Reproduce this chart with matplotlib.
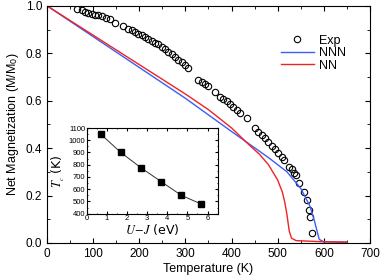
import matplotlib
matplotlib.use("Agg")
import matplotlib.pyplot as plt
from matplotlib.ticker import MultipleLocator

plt.rcParams["font.family"] = ["Liberation Sans", "DejaVu Sans"]
plt.rcParams["mathtext.fontset"] = "stix"

# experimental points
exp_t = [65.7, 75.2, 82.4, 89.5, 96.9, 104.0, 111.2, 118.6, 127.9, 136.5, 147.4,
         165.4, 176.2, 183.6, 190.7, 197.9, 205.2, 212.4, 219.5, 226.9, 234.0,
         241.2, 248.6, 255.7, 262.9, 270.3, 277.4, 284.6, 291.9, 299.1, 306.2,
         327.9, 335.3, 342.4, 349.6, 364.1, 374.9, 382.1, 389.5, 396.6, 403.8,
         411.1, 418.3, 432.8, 450.8, 458.0, 465.3, 472.5, 479.6, 487.0, 494.1,
         501.3, 508.7, 514.3, 525.1, 530.3, 536.0, 539.7, 546.2, 557.0, 562.8,
         567.2, 570.0, 575.0]
exp_m = [0.988, 0.981, 0.974, 0.970, 0.967, 0.963, 0.960, 0.957, 0.950, 0.943, 0.929,
         0.914, 0.904, 0.897, 0.890, 0.883, 0.876, 0.869, 0.858, 0.851, 0.845,
         0.837, 0.827, 0.817, 0.805, 0.795, 0.785, 0.773, 0.764, 0.752, 0.736,
         0.686, 0.679, 0.669, 0.661, 0.637, 0.616, 0.609, 0.598, 0.585, 0.574,
         0.560, 0.546, 0.525, 0.483, 0.469, 0.455, 0.441, 0.424, 0.408, 0.396,
         0.380, 0.363, 0.349, 0.321, 0.312, 0.296, 0.286, 0.254, 0.213, 0.181,
         0.139, 0.111, 0.041]

# NNN model
nnn_t = [0, 100, 200, 300, 400, 440, 480, 520, 550, 570, 580, 590, 600, 650]
nnn_m = [1.0, 0.87, 0.74, 0.61, 0.47, 0.415, 0.36, 0.30, 0.23, 0.155, 0.09, 0.015, 0.005, 0.003]

# NN model
nn_t = [0, 100, 200, 300, 350, 400, 440, 460, 480, 500, 510, 515, 520, 525, 530, 540, 600, 650]
nn_m = [1.0, 0.876, 0.752, 0.628, 0.562, 0.485, 0.41, 0.375, 0.33, 0.265, 0.215, 0.175,
        0.12, 0.05, 0.02, 0.01, 0.005, 0.004]

# inset: Tc vs U-J
uj = [0.7, 1.7, 2.7, 3.7, 4.7, 5.7]
tc = [1050, 900, 775, 662, 550, 478]

fig = plt.figure(figsize=(3.9, 2.76), dpi=100)
ax = fig.add_axes([0.1205, 0.1196, 0.8282, 0.8594])

ax.plot(exp_t, exp_m, "o", mfc="none", mec="black", ms=4.6, mew=0.8, label="Exp")
ax.plot(nnn_t, nnn_m, color="#3b5ef5", lw=1.0, label="NNN")
ax.plot(nn_t, nn_m, color="#f02222", lw=1.0, label="NN")

ax.set_xlim(0, 700)
ax.set_ylim(0, 1.0)
ax.xaxis.set_major_locator(MultipleLocator(100))
ax.xaxis.set_minor_locator(MultipleLocator(50))
ax.yaxis.set_major_locator(MultipleLocator(0.2))
ax.yaxis.set_minor_locator(MultipleLocator(0.1))
ax.tick_params(which="both", direction="in", top=True, right=True, labelsize=8.5)
ax.tick_params(which="major", length=3.5)
ax.tick_params(which="minor", length=2)
ax.set_xlabel("Temperature (K)", fontsize=9, labelpad=2)
ax.set_ylabel("Net Magnetization (M/M$_\\mathregular{0}$)", fontsize=9, labelpad=3)

ax.legend(loc="upper right", bbox_to_anchor=(0.94, 0.90), frameon=False, fontsize=9,
          handlelength=2.6, handletextpad=0.4, labelspacing=0.05, borderaxespad=0)

ins = fig.add_axes([0.222, 0.2257, 0.336, 0.3105])
ins.plot(uj, tc, color="#333333", lw=0.7, marker="s", ms=3.8, mfc="black", mec="black")
ins.set_xlim(0, 6.5)
ins.set_ylim(400, 1100)
ins.xaxis.set_major_locator(MultipleLocator(1))
ins.xaxis.set_minor_locator(MultipleLocator(0.5))
ins.yaxis.set_major_locator(MultipleLocator(100))
ins.yaxis.set_minor_locator(MultipleLocator(50))
ins.tick_params(which="both", direction="in", top=True, right=True, labelsize=5.5, pad=1)
ins.tick_params(which="major", length=2)
ins.tick_params(which="minor", length=1)
ins.set_xlabel("$U\\!-\\!J$ (eV)", fontsize=9, labelpad=0,
               family=["DejaVu Sans"])
ins.set_ylabel("$T_{_c}$ (K)", fontsize=9, labelpad=1, family=["DejaVu Sans"])

fig.savefig("out.png", dpi=100)
